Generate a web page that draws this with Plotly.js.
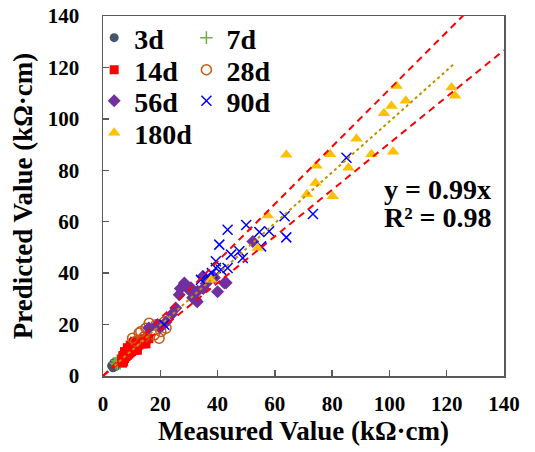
<!DOCTYPE html>
<html>
<head>
<meta charset="utf-8">
<script src="https://cdn.plot.ly/plotly-3.0.1.min.js"></script>
<style>html,body{margin:0;padding:0;background:#fff;}#chart{width:535px;height:452px;}</style>
</head>
<body>
<div id="chart"></div>
<script>
// ---- data (Measured, Predicted) in kΩ·cm ----
const d3_meas  = [3.0, 3.5, 4.0, 4.5, 5.0, 3.8];
const d3_pred  = [4.0, 3.2, 4.5, 3.8, 5.0, 5.2];

const d7_meas  = [4.5, 5.0, 5.5, 6.0, 6.5, 7.0, 5.0, 6.0, 7.5, 5.5];
const d7_pred  = [5.0, 6.0, 5.5, 6.5, 6.0, 7.0, 4.5, 5.0, 7.5, 7.0];

const d14_meas = [6.5, 7.0, 7.5, 8.0, 8.0, 8.5, 9.0, 9.0, 9.5, 10.0, 10.0, 10.5, 11.0, 11.0, 11.5, 12.0, 12.0, 12.5, 13.0, 13.0, 13.5, 14.0, 14.0, 14.5, 15.0, 15.5, 16.0, 9.5, 8.5, 10.5, 7.5, 12.0, 15.0, 11.0, 6.8, 7.2];
const d14_pred = [6.5, 8.0, 6.8, 7.5, 9.0, 8.0, 10.0, 8.5, 9.0, 11.0, 9.5, 10.5, 12.0, 10.0, 11.0, 13.0, 11.5, 12.0, 12.5, 14.0, 13.0, 12.5, 14.5, 13.5, 14.0, 15.0, 14.5, 12.0, 11.0, 13.0, 9.5, 10.0, 12.5, 13.5, 5.0, 5.5];

const d28_meas = [11.4, 13.2, 16.1, 18.5, 17.9, 20.2, 19.6, 14.4, 22.0, 15.0, 10.3, 12.6, 21.4];
const d28_pred = [13.4, 17.3, 20.5, 19.9, 16.0, 17.3, 14.7, 15.3, 18.6, 18.6, 14.7, 16.7, 21.0];

const d56_meas = [16.0, 20.0, 22.0, 25.4, 26.6, 28.4, 30.0, 30.7, 31.3, 32.4, 32.9, 34.8, 38.9, 40.0, 42.4, 43.0, 52.3, 27.0, 29.0, 36.0, 24.0, 19.0, 33.0, 35.0];
const d56_pred = [18.7, 19.0, 21.0, 26.4, 31.6, 36.2, 33.5, 34.3, 30.4, 29.6, 28.9, 38.7, 38.2, 32.8, 36.2, 36.3, 52.3, 34.0, 35.0, 36.0, 24.0, 20.0, 33.0, 34.0];

const d90_meas = [21.4, 34.2, 39.4, 41.2, 43.5, 39.4, 44.7, 47.6, 48.8, 40.6, 43.5, 50.0, 54.6, 58.0, 55.2, 63.4, 64.0, 73.3, 85.0, 36.5, 38.0];
const d90_pred = [19.9, 37.4, 42.0, 41.3, 42.0, 44.6, 47.2, 48.5, 45.9, 51.1, 56.9, 58.7, 56.0, 56.3, 50.4, 62.1, 53.9, 63.0, 84.9, 39.0, 40.0];

const d180_meas = [37.7, 54.0, 57.5, 64.0, 71.2, 74.2, 74.5, 79.3, 80.2, 85.7, 88.5, 93.7, 98.1, 100.7, 101.3, 102.5, 105.7, 121.7, 122.9];
const d180_pred = [37.4, 49.8, 62.4, 86.0, 70.7, 75.1, 81.8, 86.2, 69.9, 81.0, 92.3, 86.2, 102.2, 105.0, 87.2, 112.8, 107.0, 112.2, 109.0];

// reference lines
const fitX   = [4.0, 122.5];
const fitY   = [3.96, 121.3];
const boundX = [0, 140];
const upperY = [0, 156.1];
const lowerY = [0, 126.7];

const tickVals = [0, 20, 40, 60, 80, 100, 120, 140];
const labels = ['3d', '7d', '14d', '28d', '56d', '90d', '180d'];

const FONT = '"Liberation Serif", "Times New Roman", serif';

const traces = [
  {x: d3_meas, y: d3_pred, name: labels[0], mode: 'markers', legend: 'legend',
   marker: {symbol: 'circle', size: 9, color: '#44546A'}},
  {x: d7_meas, y: d7_pred, name: labels[1], mode: 'markers', legend: 'legend2',
   marker: {symbol: 'cross-thin', size: 9, color: '#70AD47', line: {color: '#70AD47', width: 1.5}}},
  {x: d14_meas, y: d14_pred, name: labels[2], mode: 'markers', legend: 'legend3',
   marker: {symbol: 'square', size: 9, color: '#FF0000'}},
  {x: d28_meas, y: d28_pred, name: labels[3], mode: 'markers', legend: 'legend4',
   marker: {symbol: 'circle-open', size: 10, color: '#C55A11', line: {color: '#C55A11', width: 1.5}}},
  {x: d56_meas, y: d56_pred, name: labels[4], mode: 'markers', legend: 'legend5',
   marker: {symbol: 'diamond', size: 10, color: '#7030A0'}},
  {x: d90_meas, y: d90_pred, name: labels[5], mode: 'markers', legend: 'legend6',
   marker: {symbol: 'x-thin', size: 10, color: '#0000FF', line: {color: '#0000FF', width: 1.5}}},
  {x: d180_meas, y: d180_pred, name: labels[6], mode: 'markers', legend: 'legend7',
   marker: {symbol: 'triangle-up', size: 11, color: '#FFC000'}},
  {x: boundX, y: upperY, mode: 'lines', showlegend: false, hoverinfo: 'skip',
   line: {color: '#FF0000', width: 2, dash: '7px,5px'}},
  {x: boundX, y: lowerY, mode: 'lines', showlegend: false, hoverinfo: 'skip',
   line: {color: '#FF0000', width: 2, dash: '7px,5px'}},
  {x: fitX, y: fitY, mode: 'lines', showlegend: false, hoverinfo: 'skip',
   line: {color: '#BF9000', width: 2, dash: 'dot'}}
];

const axisCommon = {
  range: [0, 140], tickvals: tickVals, ticktext: tickVals.map(String),
  ticks: 'inside', ticklen: 6, tickwidth: 1.5, tickcolor: '#595959',
  showline: true, linecolor: '#595959', linewidth: 1.5, mirror: true,
  showgrid: false, zeroline: false, fixedrange: true,
  tickfont: {family: FONT, size: 21, color: '#000', weight: 'bold'}
};

function leg(x, y) {
  return {
    x: x, y: y, xanchor: 'left', yanchor: 'middle', bgcolor: 'rgba(0,0,0,0)', borderwidth: 0,
    font: {family: FONT, size: 28, color: '#000', weight: 'bold'}, orientation: 'v'
  };
}
const colA = -0.022, colB = 0.208;
const rowY = [0.939, 0.85, 0.764, 0.675];

const layout = {
  width: 535, height: 452,
  margin: {l: 103, r: 31, t: 16, b: 76},
  paper_bgcolor: '#fff', plot_bgcolor: '#fff',
  showlegend: true,
  xaxis: Object.assign({}, axisCommon, {
    ticklabelstandoff: 8,
    title: {text: 'Measured Value (kΩ·cm)', standoff: 4,
            font: {family: FONT, size: 27, color: '#000', weight: 'bold'}}
  }),
  yaxis: Object.assign({}, axisCommon, {
    ticklabelstandoff: 18,
    title: {text: 'Predicted Value (kΩ·cm)', standoff: 7,
            font: {family: FONT, size: 27, color: '#000', weight: 'bold'}}
  }),
  legend:  leg(colA, rowY[0]),
  legend2: leg(colB, rowY[0]),
  legend3: leg(colA, rowY[1]),
  legend4: leg(colB, rowY[1]),
  legend5: leg(colA, rowY[2]),
  legend6: leg(colB, rowY[2]),
  legend7: leg(colA, rowY[3]),
  annotations: [
    {x: 97.3, y: 72.5, xref: 'x', yref: 'y', xanchor: 'left', yanchor: 'middle', showarrow: false,
     text: 'y = 0.99x', font: {family: FONT, size: 28, color: '#000', weight: 'bold'}},
    {x: 97.3, y: 61.6, xref: 'x', yref: 'y', xanchor: 'left', yanchor: 'middle', showarrow: false,
     text: 'R² = 0.98', font: {family: FONT, size: 28, color: '#000', weight: 'bold'}}
  ]
};

Plotly.newPlot('chart', traces, layout, {displayModeBar: false, staticPlot: true});
</script>
</body>
</html>
